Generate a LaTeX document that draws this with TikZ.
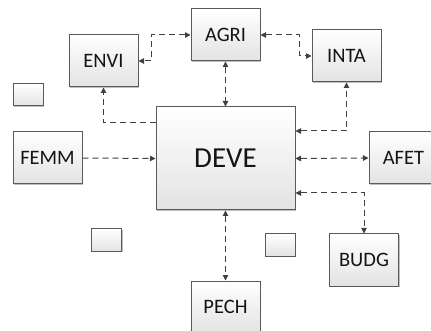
\documentclass[tikz,border=0pt]{standalone}
\usepackage{fontspec}
\setmainfont{Carlito}
\usetikzlibrary{arrows.meta,shadows}
\definecolor{boxline}{HTML}{5A5A5A}
\definecolor{linkline}{HTML}{404040}
\tikzset{
  box/.style={rectangle, draw=boxline, line width=1pt, inner sep=0pt,
    top color=white, bottom color=black!11,
    drop shadow={shadow xshift=1.2pt, shadow yshift=-1.2pt, opacity=0.25, fill=black},
    minimum width=69pt, minimum height=52pt, font=\fontsize{20.5}{22}\selectfont, text=black!92},
  bigbox/.style={box, minimum width=139pt, minimum height=103pt, font=\fontsize{29}{32}\selectfont},
  smallbox/.style={box, minimum width=30pt, minimum height=22pt},
  link/.style={draw=linkline, line width=1pt, dash pattern=on 6pt off 4pt},
  both/.style={link, {Triangle[length=5.5pt,width=5.5pt]}-{Triangle[length=5.5pt,width=5.5pt]}},
  one/.style={link, -{Triangle[length=5.5pt,width=5.5pt]}}
}
\begin{document}
\begin{tikzpicture}[x=1pt,y=-1pt]
\useasboundingbox (0,0) rectangle (431,331);
\clip (0,0) rectangle (431,331);
\node[box] (AGRI) at (225.5,35) {AGRI};
\node[box] (ENVI) at (103.5,61) {ENVI};
\node[box] (INTA) at (346.5,56) {INTA};
\node[smallbox] (S1) at (28,95) {};
\node[bigbox] (DEVE) at (225.5,158.5) {DEVE};
\node[box] (FEMM) at (47.5,158) {FEMM};
\node[box] (AFET) at (403.5,158) {AFET};
\node[smallbox] (S2) at (106.5,240) {};
\node[smallbox] (S3) at (280,245) {};
\node[box] (BUDG) at (364,260) {BUDG};
\node[box] (PECH) at (225.5,307) {PECH};
\draw[both] (AGRI.west) -- ([xshift=-39pt]AGRI.west) |- (ENVI.east);
\draw[both] (AGRI.east) -- ([xshift=39pt]AGRI.east) |- (INTA.west);
\draw[both] (AGRI.south) -- (DEVE.north);
\draw[one] ([yshift=35.5pt]DEVE.west) -| (ENVI.south);
\draw[both] ([yshift=27.5pt]DEVE.east) -| (INTA.south);
\draw[one] (FEMM.east) -- (DEVE.west);
\draw[both] (DEVE.east) -- (AFET.west);
\draw[both] ([yshift=-34.5pt]DEVE.east) -| (BUDG.north);
\draw[both] (DEVE.south) -- (PECH.north);
\end{tikzpicture}
\end{document}
